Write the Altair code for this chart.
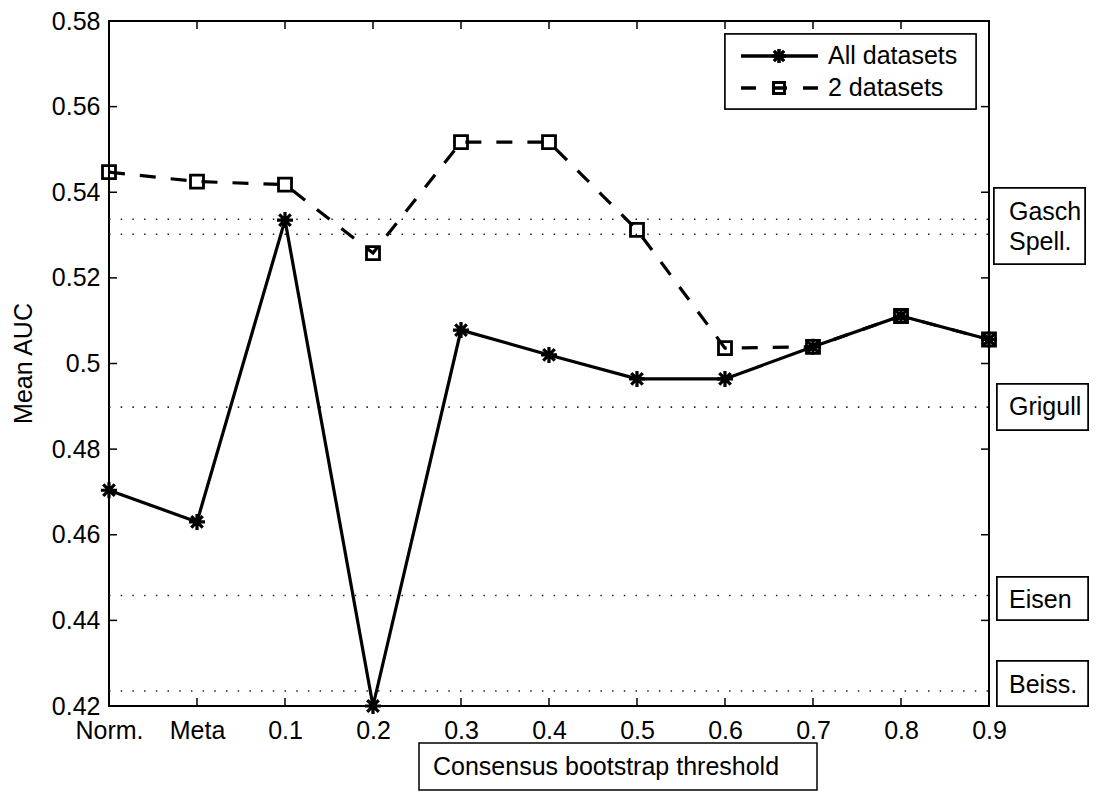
import json
import altair as alt
import pandas as pd

# ---------------- data ----------------
categories = ["Norm.", "Meta", "0.1", "0.2", "0.3", "0.4", "0.5", "0.6", "0.7", "0.8", "0.9"]
all_datasets = [0.4704, 0.4630, 0.5335, 0.4200, 0.5078, 0.5020, 0.4964, 0.4964, 0.5039, 0.5111, 0.5056]
two_datasets = [0.5447, 0.5425, 0.5418, 0.5258, 0.5517, 0.5517, 0.5312, 0.5036, 0.5039, 0.5111, 0.5056]
series_names = ["All datasets", "2 datasets"]
ref_names = ["Gasch", "Spell.", "Grigull", "Eisen", "Beiss."]
ref_values = [0.5337, 0.5302, 0.4898, 0.4458, 0.4235]
y_ticks = [0.42, 0.44, 0.46, 0.48, 0.50, 0.52, 0.54, 0.56, 0.58]
x_title = "Consensus bootstrap threshold"
y_title = "Mean AUC"

W, H = 880, 685
FONT = "Liberation Sans"
FS = 25
ASTERISK = "M-1,0L1,0M0,-1L0,1M-0.72,-0.72L0.72,0.72M-0.72,0.72L0.72,-0.72"

idx = list(range(len(categories)))
df_all = pd.DataFrame({"i": idx, "cat": categories, "value": all_datasets})
df_two = pd.DataFrame({"i": idx, "cat": categories, "value": two_datasets})
df_ref = pd.DataFrame({"name": ref_names, "value": ref_values})
df_xt = pd.DataFrame({"i": idx})
df_yt = pd.DataFrame({"value": y_ticks})

X = alt.X("i:Q", scale=alt.Scale(domain=[0, len(categories) - 1], nice=False, zero=False),
          axis=alt.Axis(title=None, values=idx, labelAngle=0, ticks=False, domain=False, grid=False,
                        labelPadding=12, labelFlush=False, labelOverlap=False,
                        labelExpr=json.dumps(categories) + "[datum.value]"))
Y = alt.Y("value:Q", scale=alt.Scale(domain=[0.42, 0.58], nice=False, zero=False),
          axis=alt.Axis(title=None, values=y_ticks, ticks=False, domain=False, grid=False,
                        labelPadding=9, labelFlush=False, labelOverlap=False,
                        labelExpr="format(datum.value, '.2~f')"))

layers = []

# dotted reference lines
layers.append(alt.Chart(df_ref).mark_rule(color="#222", strokeWidth=1.6, strokeDash=[1.5, 10.2]).encode(
    y=Y, x=alt.value(0), x2=alt.value(W)))

# inward ticks
layers.append(alt.Chart(df_xt).mark_rule(color="black", strokeWidth=1.5).encode(
    x=X, y=alt.value(H), y2=alt.value(H - 8)))
layers.append(alt.Chart(df_xt).mark_rule(color="black", strokeWidth=1.5).encode(
    x=X, y=alt.value(0), y2=alt.value(8)))
layers.append(alt.Chart(df_yt).mark_rule(color="black", strokeWidth=1.5).encode(
    y=Y, x=alt.value(0), x2=alt.value(8)))
layers.append(alt.Chart(df_yt).mark_rule(color="black", strokeWidth=1.5).encode(
    y=Y, x=alt.value(W), x2=alt.value(W - 8)))

# series
layers.append(alt.Chart(df_all).mark_line(color="black", strokeWidth=3.2).encode(x=X, y=Y))
layers.append(alt.Chart(df_all).mark_point(shape=ASTERISK, size=256, filled=False, color="black",
                                           strokeWidth=3.2, opacity=1).encode(x=X, y=Y))
layers.append(alt.Chart(df_two).mark_line(color="black", strokeWidth=3.2, strokeDash=[16, 15]).encode(x=X, y=Y))
layers.append(alt.Chart(df_two).mark_point(shape="square", size=169, filled=False, color="black",
                                           strokeWidth=2.8, opacity=1).encode(x=X, y=Y))

# right-hand labels for reference lines
box_style = dict(fill="white", stroke="black", strokeWidth=1.5)
layers.append(alt.Chart(df_ref).mark_rect(**box_style).encode(
    x=alt.value(885), x2=alt.value(976), y=alt.value(167), y2=alt.value(243)))
layers.append(alt.Chart(df_ref).mark_rect(**box_style).encode(
    x=alt.value(888), x2=alt.value(979), y=alt.value(363), y2=alt.value(409)))
layers.append(alt.Chart(df_ref).mark_rect(**box_style).encode(
    x=alt.value(888), x2=alt.value(979), y=alt.value(556), y2=alt.value(599)))
layers.append(alt.Chart(df_ref).mark_rect(**box_style).encode(
    x=alt.value(888), x2=alt.value(979), y=alt.value(640), y2=alt.value(685)))
label_dy = [-7, 8, 0, 4, -6]
for i, (nm, val) in enumerate(zip(ref_names, ref_values)):
    layers.append(alt.Chart(df_ref.iloc[[i]]).mark_text(
        font=FONT, fontSize=FS, align="left", baseline="middle", color="black", dy=label_dy[i]).encode(
        y=Y, x=alt.value(900), text="name:N"))

# legend
df_leg = pd.DataFrame({"name": series_names})
layers.append(alt.Chart(df_leg).mark_rect(**box_style).encode(
    x=alt.value(616), x2=alt.value(867), y=alt.value(13), y2=alt.value(88)))
layers.append(alt.Chart(df_leg).mark_rule(color="black", strokeWidth=3).encode(
    x=alt.value(632), x2=alt.value(709), y=alt.value(35)))
layers.append(alt.Chart(df_leg).mark_rule(color="black", strokeWidth=3, strokeDash=[15, 16]).encode(
    x=alt.value(632), x2=alt.value(709), y=alt.value(67)))
layers.append(alt.Chart(df_leg).mark_point(shape=ASTERISK, size=196, filled=False, color="black",
                                           strokeWidth=3, opacity=1).encode(
    x=alt.value(670), y=alt.value(35)))
layers.append(alt.Chart(df_leg).mark_point(shape="square", size=120, filled=False, color="black",
                                           strokeWidth=2.8, opacity=1).encode(
    x=alt.value(670), y=alt.value(67)))
layers.append(alt.Chart(df_leg.iloc[[0]]).mark_text(
    font=FONT, fontSize=FS, align="left", baseline="middle", color="black").encode(
    x=alt.value(719), y=alt.value(35), text="name:N"))
layers.append(alt.Chart(df_leg.iloc[[1]]).mark_text(
    font=FONT, fontSize=FS, align="left", baseline="middle", color="black").encode(
    x=alt.value(719), y=alt.value(67), text="name:N"))

# axis titles
df_t = pd.DataFrame({"t": [x_title], "u": [y_title]})
layers.append(alt.Chart(df_t).mark_rect(**box_style).encode(
    x=alt.value(310), x2=alt.value(708), y=alt.value(722), y2=alt.value(769)))
layers.append(alt.Chart(df_t).mark_text(font=FONT, fontSize=FS, align="left", baseline="middle",
                                        color="black").encode(
    x=alt.value(324), y=alt.value(746), text="t:N"))
layers.append(alt.Chart(df_t).mark_text(font=FONT, fontSize=FS, align="center", baseline="alphabetic",
                                        angle=270, color="black").encode(
    x=alt.value(-77), y=alt.value(H / 2), text="u:N"))

chart = alt.layer(*layers).properties(
    width=W, height=H,
    autosize="none",
    padding={"left": 101, "top": 13, "right": 102, "bottom": 86},
    background="white",
).configure_view(
    stroke="black", strokeWidth=2
).configure_axis(
    labelFont=FONT, labelFontSize=FS, labelColor="black"
)

chart.save("out.html", embed_options={"renderer": "svg", "actions": False})
